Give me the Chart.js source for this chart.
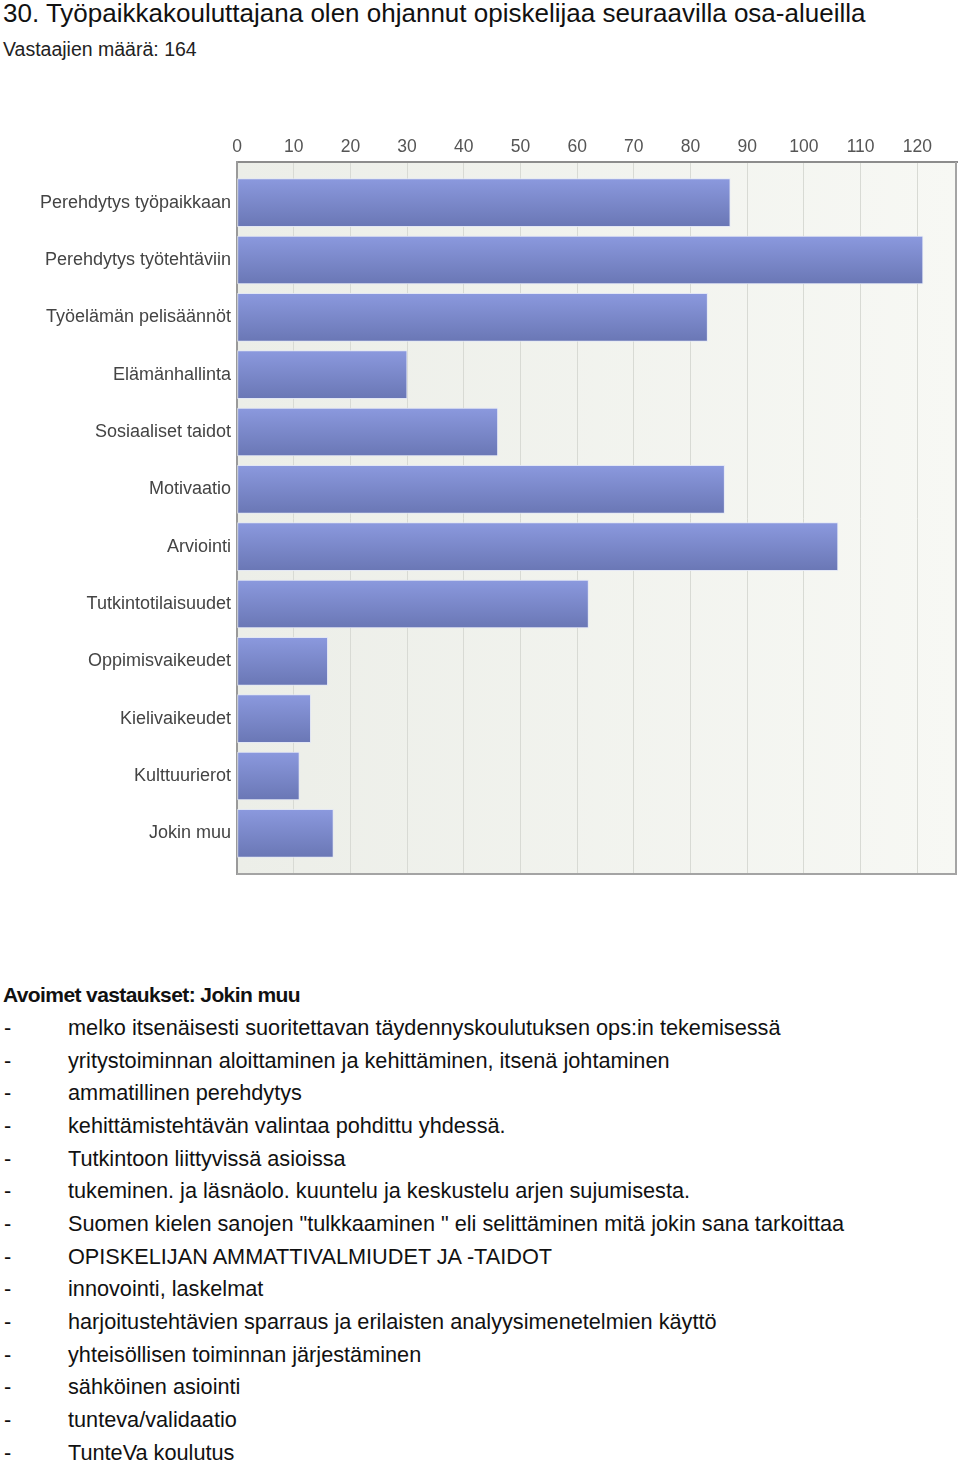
<!DOCTYPE html>
<html>
<head>
<meta charset="utf-8">
<script src="https://cdn.jsdelivr.net/npm/chart.js@4"></script>
<style>
  body { margin: 0; background: #fff; font-family: "Liberation Sans", Arial, sans-serif; color: #111; }
  .title { position: absolute; left: 3px; top: -2px; font-size: 26px; white-space: nowrap; }
  .sub { position: absolute; left: 3px; top: 38px; font-size: 19.5px; color: #222; }
  #wrap { position: absolute; left: 0; top: 120px; width: 960px; height: 780px; }
  .open { position: absolute; left: 3px; top: 983px; font-size: 21px; font-weight: bold; letter-spacing: -0.6px; }
  .list { position: absolute; left: 0; top: 1012px; font-size: 21.7px; line-height: 32.67px; }
  .row { position: relative; height: 32.67px; white-space: nowrap; }
  .row span.d { position: absolute; left: 4px; }
  .row span.t { position: absolute; left: 68px; }
</style>
</head>
<body>
<div class="title">30. Työpaikkakouluttajana olen ohjannut opiskelijaa seuraavilla osa-alueilla</div>
<div class="sub">Vastaajien määrä: 164</div>
<div id="wrap"><canvas id="areasChart" width="960" height="780"></canvas></div>
<div class="open">Avoimet vastaukset: Jokin muu</div>
<div class="list" id="answers"></div>
<script>
const categories = [
  "Perehdytys työpaikkaan",
  "Perehdytys työtehtäviin",
  "Työelämän pelisäännöt",
  "Elämänhallinta",
  "Sosiaaliset taidot",
  "Motivaatio",
  "Arviointi",
  "Tutkintotilaisuudet",
  "Oppimisvaikeudet",
  "Kielivaikeudet",
  "Kulttuurierot",
  "Jokin muu",
];
const counts = [87, 121, 83, 30, 46, 86, 106, 62, 16, 13, 11, 17];
const xTicks = [0, 10, 20, 30, 40, 50, 60, 70, 80, 90, 100, 110, 120];
const openAnswers = [
  "melko itsenäisesti suoritettavan täydennyskoulutuksen ops:in tekemisessä",
  "yritystoiminnan aloittaminen ja kehittäminen, itsenä johtaminen",
  "ammatillinen perehdytys",
  "kehittämistehtävän valintaa pohdittu yhdessä.",
  "Tutkintoon liittyvissä asioissa",
  "tukeminen. ja läsnäolo. kuuntelu ja keskustelu arjen sujumisesta.",
  "Suomen kielen sanojen \"tulkkaaminen \" eli selittäminen mitä jokin sana tarkoittaa",
  "OPISKELIJAN AMMATTIVALMIUDET JA -TAIDOT",
  "innovointi, laskelmat",
  "harjoitustehtävien sparraus ja erilaisten analyysimenetelmien käyttö",
  "yhteisöllisen toiminnan järjestäminen",
  "sähköinen asiointi",
  "tunteva/validaatio",
  "TunteVa koulutus",
];

const list = document.getElementById("answers");
openAnswers.forEach(function (a) {
  const row = document.createElement("div");
  row.className = "row";
  const d = document.createElement("span");
  d.className = "d";
  d.textContent = "-";
  const t = document.createElement("span");
  t.className = "t";
  t.textContent = a;
  row.appendChild(d);
  row.appendChild(t);
  list.appendChild(row);
});

const BAR_H = 48;

// plot background + right/bottom frame
const plotFrame = {
  id: "plotFrame",
  beforeDraw(chart) {
    const a = chart.chartArea;
    const c = chart.ctx;
    const g = c.createLinearGradient(a.left, 0, a.right, 0);
    g.addColorStop(0, "#eceee8");
    g.addColorStop(1, "#f7f8f4");
    c.save();
    c.fillStyle = g;
    c.fillRect(a.left, a.top, a.right - a.left, a.bottom - a.top);
    c.restore();
  },
  afterDraw(chart) {
    const a = chart.chartArea;
    const c = chart.ctx;
    c.save();
    c.strokeStyle = "#a4a4a4";
    c.lineWidth = 2;
    c.beginPath();
    c.moveTo(a.left, a.bottom);
    c.lineTo(a.right - 1, a.bottom);
    c.lineTo(a.right - 1, a.top);
    c.stroke();
    c.restore();
  },
};

const ctx = document.getElementById("areasChart");

var chart = new Chart(ctx, {
  type: "bar",
  data: {
    labels: categories,
    datasets: [
      {
        label: "Vastaajat",
        data: counts.map((v, i) => ({ x: v, y: i })),
        barThickness: BAR_H,
        borderWidth: 1,
        borderColor: "rgba(225,229,245,0.9)",
        borderSkipped: false,
        backgroundColor: function (context) {
          const chart = context.chart;
          if (!chart.chartArea || !chart.scales.y) return "#7a88c9";
          const y = chart.scales.y.getPixelForValue(context.dataIndex);
          const g = chart.ctx.createLinearGradient(0, y - BAR_H / 2, 0, y + BAR_H / 2);
          g.addColorStop(0, "#8b99de");
          g.addColorStop(1, "#6a77b5");
          return g;
        },
      },
    ],
  },
  options: {
    indexAxis: "y",
    responsive: false,
    animation: false,
    layout: { padding: { left: 0, right: 3, top: 0, bottom: 26 } },
    plugins: {
      legend: { display: false },
      tooltip: { enabled: false },
    },
    scales: {
      x: {
        type: "linear",
        position: "top",
        min: 0,
        max: 127,
        afterBuildTicks: (scale) => {
          scale.ticks = xTicks.map((v) => ({ value: v }));
        },
        afterFit: (scale) => {
          scale.height = 42;
        },
        grid: { color: "#d8dad4", lineWidth: 1, drawTicks: false },
        border: { display: true, color: "#8c8c8c", width: 2 },
        ticks: {
          padding: 4,
          color: "#555",
          font: { family: "'Liberation Sans', Arial, sans-serif", size: 17.5 },
        },
      },
      y: {
        type: "linear",
        reverse: true,
        offset: false,
        min: -0.71,
        max: 11.71,
        afterBuildTicks: (scale) => {
          scale.ticks = categories.map((c, i) => ({ value: i }));
        },
        afterFit: (scale) => {
          scale.width = 237;
        },
        grid: { display: false, drawTicks: false, tickLength: 0 },
        border: { display: true, color: "#9a9a9a", width: 2 },
        ticks: {
          padding: 6,
          color: "#444",
          autoSkip: false,
          font: { family: "'Liberation Sans', Arial, sans-serif", size: 18 },
          callback: (v) => categories[v],
        },
      },
    },
  },
  plugins: [plotFrame],
});
</script>
</body>
</html>
